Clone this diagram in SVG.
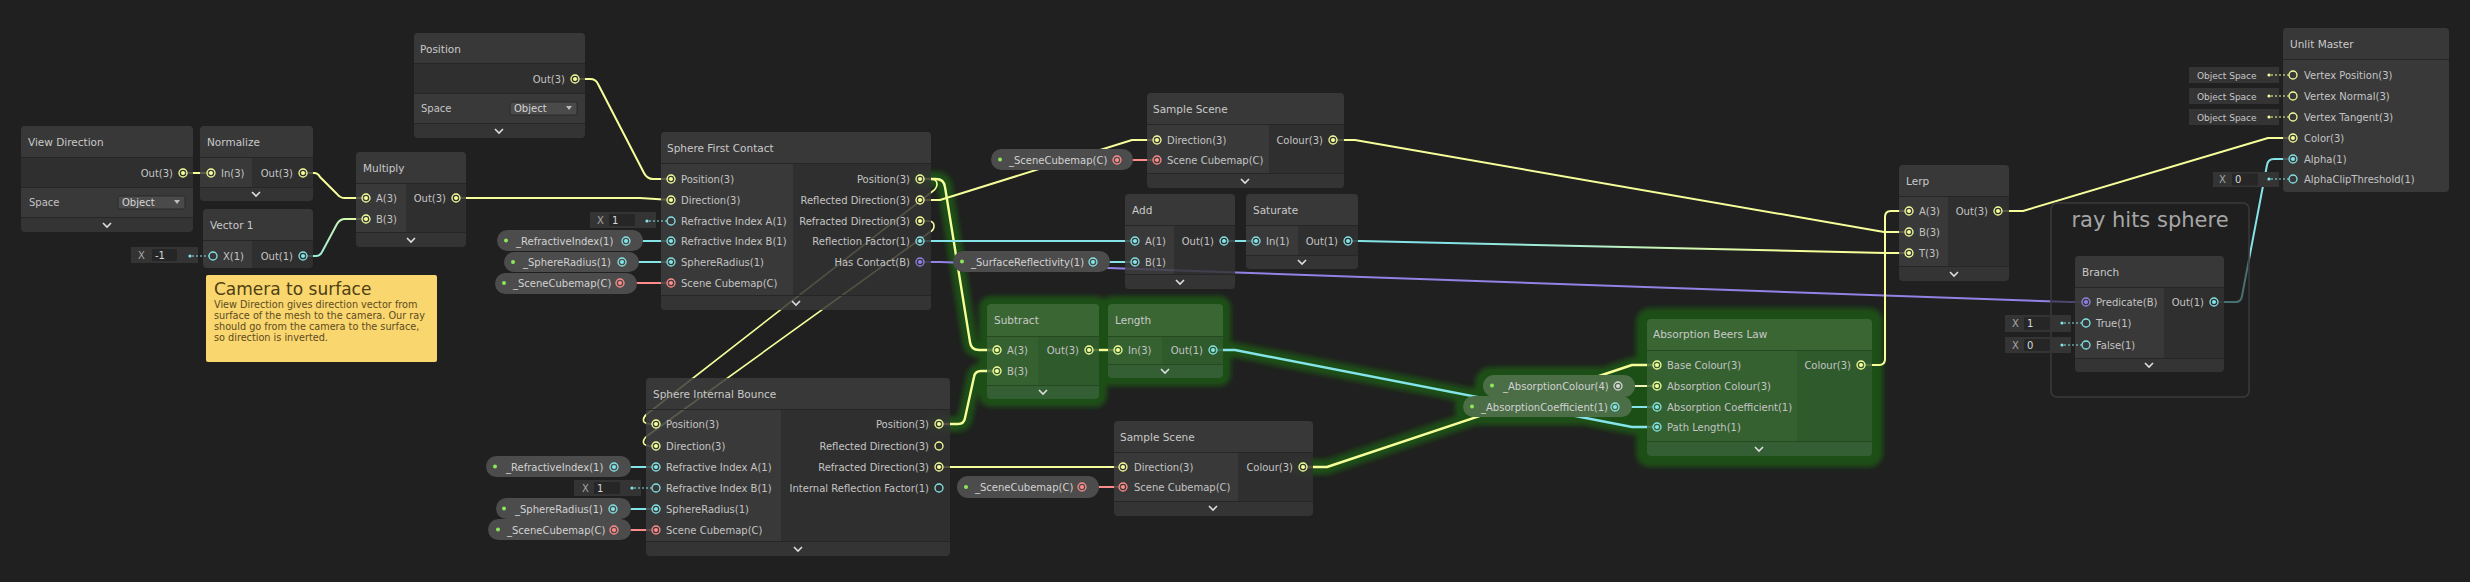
<svg xmlns="http://www.w3.org/2000/svg" xmlns:xlink="http://www.w3.org/1999/xlink" width="2470" height="582" viewBox="0 0 2470 582">
<style>
text{font-family:"DejaVu Sans","Liberation Sans",sans-serif}
.tb{fill:#3d3d3d;fill-opacity:.85}
.ic{fill:#3e3e3e;fill-opacity:.85}
.oc{fill:#323232;fill-opacity:.85}
.ft{fill:#383838;fill-opacity:.85}
.sep{fill:#262626}
.g .tb{fill:#3f6a3a}
.g .ic{fill:#3a6436}
.g .oc{fill:#335c30}
.g .ft{fill:#38623a}
.g .sep{fill:#254a20}
.tt{font-size:10.5px;fill:#c9c9c9}
.lb{font-size:10px;fill:#c4c4c4}
.e{text-anchor:end}
.cy{color:#F6FF9A}.cc{color:#84E4E7}.cp{color:#9481E6}.cr{color:#FF8B8B}.cw{color:#d8d8d8}
.wire{fill:none;stroke-width:2;stroke-linejoin:round}
.hl{stroke-width:2.4}
.y{stroke:#F6FF9A}.c{stroke:#84E4E7}.p{stroke:#9481E6}.r{stroke:#FF8B8B}
.back{stroke:#F6FF9A;stroke-width:1.6}
.glow{fill:none;stroke:#1f4f19;stroke-width:15;stroke-linejoin:round;stroke-linecap:round}
.gb{fill:#1f4f19}
.pill{fill:#4c4c4c}
.gp{fill:#4b6e47}
.pt{font-size:10px;fill:#d2d2d2}
.fld{fill:#343434}
.val{fill:#262626}
.f9{font-size:9px;fill:#c8c8c8}
.fx{font-size:10px;fill:#a8a8a8}
.fv{font-size:10px;fill:#d8d8d8}
.dash{fill:none;stroke-width:1.2;stroke-dasharray:2 2}
.dd{fill:#4a4a4a;stroke:#2a2a2a;stroke-width:1}
.ddt{font-size:10px;fill:#d4d4d4}
.tri{fill:#bdbdbd}
.note-t{font-size:17px;fill:#4f3f12}
.note-b{font-size:9.7px;fill:#5d4b1f}
</style>
<defs>
<g id="pc"><circle r="4" fill="none" stroke="currentColor" stroke-width="1.3"/><circle r="2" fill="currentColor"/></g>
<g id="ph"><circle r="4" fill="none" stroke="currentColor" stroke-width="1.3"/></g>
<path id="chev" d="M-4,-2 L0,2 L4,-2" fill="none" stroke="#dedede" stroke-width="1.6"/>
<filter id="blur" filterUnits="userSpaceOnUse" x="0" y="0" width="2470" height="582"><feGaussianBlur stdDeviation="2.5"/></filter>
<linearGradient id="g1" gradientUnits="userSpaceOnUse" x1="303" y1="0" x2="366" y2="0"><stop offset="0" stop-color="#84E4E7"/><stop offset="1" stop-color="#F6FF9A"/></linearGradient>
<linearGradient id="g2" gradientUnits="userSpaceOnUse" x1="1348" y1="0" x2="1909" y2="0"><stop offset="0.2" stop-color="#84E4E7"/><stop offset="0.8" stop-color="#F6FF9A"/></linearGradient>
<linearGradient id="g3" gradientUnits="userSpaceOnUse" x1="1618" y1="0" x2="1657" y2="0"><stop offset="0" stop-color="#e0e0e0"/><stop offset="1" stop-color="#F6FF9A"/></linearGradient>
</defs>
<rect width="2470" height="582" fill="#202020"/>

<!-- selection glow -->
<g id="glow" filter="url(#blur)">
<path class="glow" d="M918,179 H936 Q944,179 945,187 L970,342 Q971,350 979,350 H997"/>
<path class="glow" d="M937,424 H958 Q964,424 965,418 L974,377 Q975,371 981,371 H997"/>
<path class="glow" d="M1213,350 H1235 L1632,427 H1657"/>
<path class="glow" d="M1301,467 H1327 L1632,365 H1657"/>
<rect class="gb" x="979" y="296" width="128" height="111" rx="12"/>
<rect class="gb" x="1100" y="296" width="131" height="90" rx="12"/>
<rect class="gb" x="1636" y="308" width="247" height="159" rx="14"/>
<rect class="gb" x="1475" y="367" width="168" height="38" rx="16"/>
<rect class="gb" x="1455" y="388" width="185" height="37" rx="16"/>
</g>

<!-- connectors -->
<g id="connectors">
<path class="wire y" d="M183,173 H211"/>
<path class="wire y" d="M303,173 H314 Q318,173 320,177 L337,194 Q340,198 345,198 H366"/>
<path class="wire" stroke="url(#g1)" d="M303,256 H316 Q320,256 322,252 L337,224 Q340,219 345,219 H366"/>
<path class="wire y" d="M456,198 H640 L671,200"/>
<path class="wire y" d="M575,79 H590 Q596,79 598,84 L644,173 Q647,179 653,179 H671"/>
<path class="wire c" d="M626,241 H671"/>
<path class="wire c" d="M622,262 H671"/>
<path class="wire r" d="M620,283 H671"/>
<path class="wire c" d="M614,467 H656"/>
<path class="wire c" d="M613,509 H656"/>
<path class="wire r" d="M614,530 H656"/>
<path class="wire back" fill="none" d="M920,179 H930 Q937,179 937,184 Q937,188 933,191 L647,414 Q642,418 644,422 Q646,424 650,424 H656"/>
<path class="wire back" fill="none" d="M920,221 H928 Q934,221 934,226 Q934,230 930,232 L647,436 Q642,440 644,444 Q646,446 650,446 H656"/>
<path class="wire y hl" d="M920,179 H936 Q944,179 945,187 L970,342 Q971,350 979,350 H997"/>
<path class="wire y hl" d="M939,424 H958 Q964,424 965,418 L974,377 Q975,371 981,371 H997"/>
<path class="wire y" d="M920,200 H940 L1132,140 H1157"/>
<path class="wire r" d="M1117,160 H1157"/>
<path class="wire c" d="M920,241 H1135"/>
<path class="wire c" d="M1093,262 H1135"/>
<path class="wire p" d="M920,262 H940 L2070,302 H2086"/>
<path class="wire c" d="M1224,241 H1256"/>
<path class="wire" stroke="url(#g2)" d="M1348,241 H1360 L1885,253 H1909"/>
<path class="wire y" d="M1333,140 H1355 L1884,232 H1909"/>
<path class="wire y" d="M1861,365 H1879 Q1885,365 1885,359 V217 Q1885,211 1891,211 H1909"/>
<path class="wire y hl" d="M1089,350 H1118"/>
<path class="wire c hl" d="M1213,350 H1235 L1632,427 H1657"/>
<path class="wire y" d="M939,467 H1123"/>
<path class="wire r" d="M1082,487 H1123"/>
<path class="wire y hl" d="M1303,467 H1327 L1632,365 H1657"/>
<path class="wire" stroke="url(#g3)" d="M1618,386 H1657"/>
<path class="wire c" d="M1615,407 H1657"/>
<path class="wire y" d="M1998,211 H2023 L2268,138 H2293"/>
<path class="wire c" d="M2214,302 H2236 Q2241,302 2242,296 L2267,165 Q2268,159 2274,159 H2293"/>
</g>

<!-- View Direction -->
<g id="n-viewdir">
<path class="tb" d="M21,157 V130 Q21,126 25,126 H189 Q193,126 193,130 V157 Z"/>
<rect class="oc" x="21" y="157" width="172" height="30"/>
<rect class="ic" x="21" y="187" width="172" height="30"/>
<path class="ft" d="M21,217 H193 V228 Q193,232 189,232 H25 Q21,232 21,228 Z"/>
<rect class="sep" x="21" y="157" width="172" height="1"/><rect class="sep" x="21" y="187" width="172" height="1"/><rect class="sep" x="21" y="217" width="172" height="1"/>
<text class="tt" x="28" y="146">View Direction</text>
<text class="lb e" x="173" y="177">Out(3)</text>
<use href="#pc" x="183" y="173" class="cy"/>
<text class="lb" x="29" y="206">Space</text>
<rect class="dd" x="118" y="196" width="67" height="13" rx="2"/>
<text class="ddt" x="122" y="206">Object</text>
<polygon class="tri" points="174,200 180,200 177,204"/>
<use href="#chev" x="107" y="225"/>
</g>

<!-- Normalize -->
<g id="n-normalize">
<path class="tb" d="M200,157 V130 Q200,126 204,126 H309 Q313,126 313,130 V157 Z"/>
<rect class="ic" x="200" y="157" width="52" height="30"/>
<rect class="oc" x="252" y="157" width="61" height="30"/>
<path class="ft" d="M200,187 H313 V197 Q313,201 309,201 H204 Q200,201 200,197 Z"/>
<rect class="sep" x="200" y="157" width="113" height="1"/><rect class="sep" x="200" y="187" width="113" height="1"/>
<text class="tt" x="207" y="146">Normalize</text>
<text class="lb" x="221" y="177">In(3)</text>
<use href="#pc" x="211" y="173" class="cy"/>
<text class="lb e" x="293" y="177">Out(3)</text>
<use href="#pc" x="303" y="173" class="cy"/>
<use href="#chev" x="256" y="194"/>
</g>

<!-- Vector 1 -->
<g id="n-vector1">
<path class="tb" d="M203,240 V213 Q203,209 207,209 H309 Q313,209 313,213 V240 Z"/>
<path class="ic" d="M203,240 H252 V268 H207 Q203,268 203,264 Z"/>
<path class="oc" d="M252,240 H313 V264 Q313,268 309,268 H252 Z"/>
<rect class="sep" x="203" y="240" width="110" height="1"/>
<text class="tt" x="210" y="229">Vector 1</text>
<text class="lb" x="223" y="260">X(1)</text>
<use href="#ph" x="213" y="256" class="cc"/>
<text class="lb e" x="293" y="260">Out(1)</text>
<use href="#pc" x="303" y="256" class="cc"/>
<rect class="fld" x="131" y="247" width="67" height="16"/>
<text class="fx" x="138" y="259">X</text>
<rect class="val" x="152" y="249" width="25" height="12" rx="1"/>
<text class="fv" x="155" y="259">-1</text>
<circle cx="190" cy="256" r="1.6" fill="#84E4E7"/>
<path class="dash c" d="M192,256 H209"/>
</g>

<!-- Multiply -->
<g id="n-multiply">
<path class="tb" d="M356,183 V156 Q356,152 360,152 H462 Q466,152 466,156 V183 Z"/>
<rect class="ic" x="356" y="183" width="50" height="49"/>
<rect class="oc" x="406" y="183" width="60" height="49"/>
<path class="ft" d="M356,232 H466 V243 Q466,247 462,247 H360 Q356,247 356,243 Z"/>
<rect class="sep" x="356" y="183" width="110" height="1"/><rect class="sep" x="356" y="232" width="110" height="1"/>
<text class="tt" x="363" y="172">Multiply</text>
<text class="lb" x="376" y="202">A(3)</text>
<use href="#pc" x="366" y="198" class="cy"/>
<text class="lb" x="376" y="223">B(3)</text>
<use href="#pc" x="366" y="219" class="cy"/>
<text class="lb e" x="446" y="202">Out(3)</text>
<use href="#pc" x="456" y="198" class="cy"/>
<use href="#chev" x="411" y="240"/>
</g>

<!-- Camera to surface sticky note -->
<g id="note">
<rect x="206" y="275" width="231" height="87" rx="2" fill="#f9d66e"/>
<text class="note-t" x="214" y="295">Camera to surface</text>
<text class="note-b" x="214" y="308">View Direction gives direction vector from</text>
<text class="note-b" x="214" y="319">surface of the mesh to the camera. Our ray</text>
<text class="note-b" x="214" y="330">should go from the camera to the surface,</text>
<text class="note-b" x="214" y="341">so direction is inverted.</text>
</g>

<!-- Position -->
<g id="n-position">
<path class="tb" d="M414,63 V37 Q414,33 418,33 H581 Q585,33 585,37 V63 Z"/>
<rect class="oc" x="414" y="63" width="171" height="30"/>
<rect class="ic" x="414" y="93" width="171" height="30"/>
<path class="ft" d="M414,123 H585 V134 Q585,138 581,138 H418 Q414,138 414,134 Z"/>
<rect class="sep" x="414" y="63" width="171" height="1"/><rect class="sep" x="414" y="93" width="171" height="1"/><rect class="sep" x="414" y="123" width="171" height="1"/>
<text class="tt" x="420" y="53">Position</text>
<text class="lb e" x="565" y="83">Out(3)</text>
<use href="#pc" x="575" y="79" class="cy"/>
<text class="lb" x="421" y="112">Space</text>
<rect class="dd" x="510" y="102" width="67" height="13" rx="2"/>
<text class="ddt" x="514" y="112">Object</text>
<polygon class="tri" points="566,106 572,106 569,110"/>
<use href="#chev" x="499" y="131"/>
</g>

<!-- Properties for Sphere First Contact -->
<g id="p-refr1">
<rect class="pill" x="497" y="230" width="146" height="21" rx="10.5"/>
<circle cx="506" cy="240.5" r="2" fill="#8CE85A"/>
<text class="pt" x="516" y="245">_RefractiveIndex(1)</text>
<use href="#pc" x="626" y="241" class="cc"/>
</g>
<g id="p-radius1">
<rect class="pill" x="504" y="252" width="135" height="20" rx="10"/>
<circle cx="513" cy="262" r="2" fill="#8CE85A"/>
<text class="pt" x="523" y="266">_SphereRadius(1)</text>
<use href="#pc" x="622" y="262" class="cc"/>
</g>
<g id="p-cube1">
<rect class="pill" x="495" y="273" width="142" height="21" rx="10.5"/>
<circle cx="504" cy="283" r="2" fill="#8CE85A"/>
<text class="pt" x="513" y="287">_SceneCubemap(C)</text>
<use href="#pc" x="620" y="283" class="cr"/>
</g>

<!-- Sphere First Contact -->
<g id="n-sfc">
<path class="tb" d="M661,163 V136 Q661,132 665,132 H927 Q931,132 931,136 V163 Z"/>
<rect class="ic" x="661" y="163" width="132" height="132"/>
<rect class="oc" x="793" y="163" width="138" height="132"/>
<path class="ft" d="M661,295 H931 V306 Q931,310 927,310 H665 Q661,310 661,306 Z"/>
<rect class="sep" x="661" y="163" width="270" height="1"/><rect class="sep" x="661" y="295" width="270" height="1"/>
<text class="tt" x="667" y="152">Sphere First Contact</text>
<text class="lb" x="681" y="183">Position(3)</text><use href="#pc" x="671" y="179" class="cy"/>
<text class="lb" x="681" y="204">Direction(3)</text><use href="#pc" x="671" y="200" class="cy"/>
<text class="lb" x="681" y="225">Refractive Index A(1)</text><use href="#ph" x="671" y="221" class="cc"/>
<text class="lb" x="681" y="245">Refractive Index B(1)</text><use href="#pc" x="671" y="241" class="cc"/>
<text class="lb" x="681" y="266">SphereRadius(1)</text><use href="#pc" x="671" y="262" class="cc"/>
<text class="lb" x="681" y="287">Scene Cubemap(C)</text><use href="#pc" x="671" y="283" class="cr"/>
<text class="lb e" x="910" y="183">Position(3)</text><use href="#pc" x="920" y="179" class="cy"/>
<text class="lb e" x="910" y="204">Reflected Direction(3)</text><use href="#pc" x="920" y="200" class="cy"/>
<text class="lb e" x="910" y="225">Refracted Direction(3)</text><use href="#pc" x="920" y="221" class="cy"/>
<text class="lb e" x="910" y="245">Reflection Factor(1)</text><use href="#pc" x="920" y="241" class="cc"/>
<text class="lb e" x="910" y="266">Has Contact(B)</text><use href="#pc" x="920" y="262" class="cp"/>
<rect class="fld" x="590" y="212" width="66" height="16"/>
<text class="fx" x="597" y="224">X</text>
<rect class="val" x="609" y="214" width="26" height="12" rx="1"/>
<text class="fv" x="612" y="224">1</text>
<circle cx="647" cy="221" r="1.6" fill="#84E4E7"/>
<path class="dash c" d="M649,221 H667"/>
<use href="#chev" x="796" y="303"/>
</g>

<!-- Properties for Sphere Internal Bounce -->
<g id="p-refr2">
<rect class="pill" x="486" y="456" width="145" height="21" rx="10.5"/>
<circle cx="495" cy="466.5" r="2" fill="#8CE85A"/>
<text class="pt" x="506" y="471">_RefractiveIndex(1)</text>
<use href="#pc" x="614" y="467" class="cc"/>
</g>
<g id="p-radius2">
<rect class="pill" x="496" y="498" width="135" height="21" rx="10.5"/>
<circle cx="504" cy="508.5" r="2" fill="#8CE85A"/>
<text class="pt" x="515" y="513">_SphereRadius(1)</text>
<use href="#pc" x="613" y="509" class="cc"/>
</g>
<g id="p-cube2">
<rect class="pill" x="488" y="519" width="143" height="21" rx="10.5"/>
<circle cx="498" cy="529.5" r="2" fill="#8CE85A"/>
<text class="pt" x="507" y="534">_SceneCubemap(C)</text>
<use href="#pc" x="614" y="530" class="cr"/>
</g>

<!-- Sphere Internal Bounce -->
<g id="n-sib">
<path class="tb" d="M646,409 V382 Q646,378 650,378 H946 Q950,378 950,382 V409 Z"/>
<rect class="ic" x="646" y="409" width="135" height="132"/>
<rect class="oc" x="781" y="409" width="169" height="132"/>
<path class="ft" d="M646,541 H950 V552 Q950,556 946,556 H650 Q646,556 646,552 Z"/>
<rect class="sep" x="646" y="409" width="304" height="1"/><rect class="sep" x="646" y="541" width="304" height="1"/>
<text class="tt" x="653" y="398">Sphere Internal Bounce</text>
<text class="lb" x="666" y="428">Position(3)</text><use href="#pc" x="656" y="424" class="cy"/>
<text class="lb" x="666" y="450">Direction(3)</text><use href="#pc" x="656" y="446" class="cy"/>
<text class="lb" x="666" y="471">Refractive Index A(1)</text><use href="#pc" x="656" y="467" class="cc"/>
<text class="lb" x="666" y="492">Refractive Index B(1)</text><use href="#ph" x="656" y="488" class="cc"/>
<text class="lb" x="666" y="513">SphereRadius(1)</text><use href="#pc" x="656" y="509" class="cc"/>
<text class="lb" x="666" y="534">Scene Cubemap(C)</text><use href="#pc" x="656" y="530" class="cr"/>
<text class="lb e" x="929" y="428">Position(3)</text><use href="#pc" x="939" y="424" class="cy"/>
<text class="lb e" x="929" y="450">Reflected Direction(3)</text><use href="#ph" x="939" y="446" class="cy"/>
<text class="lb e" x="929" y="471">Refracted Direction(3)</text><use href="#pc" x="939" y="467" class="cy"/>
<text class="lb e" x="929" y="492">Internal Reflection Factor(1)</text><use href="#ph" x="939" y="488" class="cc"/>
<rect class="fld" x="574" y="480" width="67" height="16"/>
<text class="fx" x="582" y="492">X</text>
<rect class="val" x="594" y="482" width="26" height="12" rx="1"/>
<text class="fv" x="597" y="492">1</text>
<circle cx="632" cy="488" r="1.6" fill="#84E4E7"/>
<path class="dash c" d="M634,488 H652"/>
<use href="#chev" x="798" y="549"/>
</g>

<!-- Sample Scene (reflection) -->
<g id="p-cube3">
<rect class="pill" x="991" y="149" width="142" height="21" rx="10.5"/>
<circle cx="1000" cy="159.5" r="2" fill="#8CE85A"/>
<text class="pt" x="1009" y="164">_SceneCubemap(C)</text>
<use href="#pc" x="1117" y="160" class="cr"/>
</g>
<g id="n-ss1">
<path class="tb" d="M1147,124 V97 Q1147,93 1151,93 H1340 Q1344,93 1344,97 V124 Z"/>
<rect class="ic" x="1147" y="124" width="122" height="49"/>
<rect class="oc" x="1269" y="124" width="75" height="49"/>
<path class="ft" d="M1147,173 H1344 V184 Q1344,188 1340,188 H1151 Q1147,188 1147,184 Z"/>
<rect class="sep" x="1147" y="124" width="197" height="1"/><rect class="sep" x="1147" y="173" width="197" height="1"/>
<text class="tt" x="1153" y="113">Sample Scene</text>
<text class="lb" x="1167" y="144">Direction(3)</text><use href="#pc" x="1157" y="140" class="cy"/>
<text class="lb" x="1167" y="164">Scene Cubemap(C)</text><use href="#pc" x="1157" y="160" class="cr"/>
<text class="lb e" x="1323" y="144">Colour(3)</text><use href="#pc" x="1333" y="140" class="cy"/>
<use href="#chev" x="1245" y="181"/>
</g>

<!-- Surface reflectivity property -->
<g id="p-reflectivity">
<rect class="pill" x="953" y="251" width="157" height="21" rx="10.5"/>
<circle cx="962" cy="261.5" r="2" fill="#8CE85A"/>
<text class="pt" x="971" y="266">_SurfaceReflectivity(1)</text>
<use href="#pc" x="1093" y="262" class="cc"/>
</g>

<!-- Add -->
<g id="n-add">
<path class="tb" d="M1125,225 V198 Q1125,194 1129,194 H1231 Q1235,194 1235,198 V225 Z"/>
<rect class="ic" x="1125" y="225" width="49" height="49"/>
<rect class="oc" x="1174" y="225" width="61" height="49"/>
<path class="ft" d="M1125,274 H1235 V285 Q1235,289 1231,289 H1129 Q1125,289 1125,285 Z"/>
<rect class="sep" x="1125" y="225" width="110" height="1"/><rect class="sep" x="1125" y="274" width="110" height="1"/>
<text class="tt" x="1132" y="214">Add</text>
<text class="lb" x="1145" y="245">A(1)</text><use href="#pc" x="1135" y="241" class="cc"/>
<text class="lb" x="1145" y="266">B(1)</text><use href="#pc" x="1135" y="262" class="cc"/>
<text class="lb e" x="1214" y="245">Out(1)</text><use href="#pc" x="1224" y="241" class="cc"/>
<use href="#chev" x="1180" y="282"/>
</g>

<!-- Saturate -->
<g id="n-saturate">
<path class="tb" d="M1246,225 V198 Q1246,194 1250,194 H1354 Q1358,194 1358,198 V225 Z"/>
<rect class="ic" x="1246" y="225" width="52" height="30"/>
<rect class="oc" x="1298" y="225" width="60" height="30"/>
<path class="ft" d="M1246,255 H1358 V265 Q1358,269 1354,269 H1250 Q1246,269 1246,265 Z"/>
<rect class="sep" x="1246" y="225" width="112" height="1"/><rect class="sep" x="1246" y="255" width="112" height="1"/>
<text class="tt" x="1253" y="214">Saturate</text>
<text class="lb" x="1266" y="245">In(1)</text><use href="#pc" x="1256" y="241" class="cc"/>
<text class="lb e" x="1338" y="245">Out(1)</text><use href="#pc" x="1348" y="241" class="cc"/>
<use href="#chev" x="1302" y="262"/>
</g>

<!-- Subtract (selected) -->
<g id="n-subtract" class="g">
<path class="tb" d="M987,336 V308 Q987,304 991,304 H1095 Q1099,304 1099,308 V336 Z"/>
<rect class="ic" x="987" y="336" width="51" height="49"/>
<rect class="oc" x="1038" y="336" width="61" height="49"/>
<path class="ft" d="M987,385 H1099 V395 Q1099,399 1095,399 H991 Q987,399 987,395 Z"/>
<rect class="sep" x="987" y="336" width="112" height="1"/><rect class="sep" x="987" y="385" width="112" height="1"/>
<text class="tt" x="994" y="324">Subtract</text>
<text class="lb" x="1007" y="354">A(3)</text><use href="#pc" x="997" y="350" class="cy"/>
<text class="lb" x="1007" y="375">B(3)</text><use href="#pc" x="997" y="371" class="cy"/>
<text class="lb e" x="1079" y="354">Out(3)</text><use href="#pc" x="1089" y="350" class="cy"/>
<use href="#chev" x="1043" y="392"/>
</g>

<!-- Length (selected) -->
<g id="n-length" class="g">
<path class="tb" d="M1108,336 V308 Q1108,304 1112,304 H1219 Q1223,304 1223,308 V336 Z"/>
<rect class="ic" x="1108" y="336" width="54" height="28"/>
<rect class="oc" x="1162" y="336" width="61" height="28"/>
<path class="ft" d="M1108,364 H1223 V374 Q1223,378 1219,378 H1112 Q1108,378 1108,374 Z"/>
<rect class="sep" x="1108" y="336" width="115" height="1"/><rect class="sep" x="1108" y="364" width="115" height="1"/>
<text class="tt" x="1115" y="324">Length</text>
<text class="lb" x="1128" y="354">In(3)</text><use href="#pc" x="1118" y="350" class="cy"/>
<text class="lb e" x="1203" y="354">Out(1)</text><use href="#pc" x="1213" y="350" class="cc"/>
<use href="#chev" x="1165" y="371"/>
</g>

<!-- Sample Scene (refraction) -->
<g id="p-cube4">
<rect class="pill" x="957" y="476" width="142" height="22" rx="11"/>
<circle cx="966" cy="487" r="2" fill="#8CE85A"/>
<text class="pt" x="975" y="491">_SceneCubemap(C)</text>
<use href="#pc" x="1082" y="487" class="cr"/>
</g>
<g id="n-ss2">
<path class="tb" d="M1114,452 V425 Q1114,421 1118,421 H1309 Q1313,421 1313,425 V452 Z"/>
<rect class="ic" x="1114" y="452" width="124" height="49"/>
<rect class="oc" x="1238" y="452" width="75" height="49"/>
<path class="ft" d="M1114,501 H1313 V512 Q1313,516 1309,516 H1118 Q1114,516 1114,512 Z"/>
<rect class="sep" x="1114" y="452" width="199" height="1"/><rect class="sep" x="1114" y="501" width="199" height="1"/>
<text class="tt" x="1120" y="441">Sample Scene</text>
<text class="lb" x="1134" y="471">Direction(3)</text><use href="#pc" x="1123" y="467" class="cy"/>
<text class="lb" x="1134" y="491">Scene Cubemap(C)</text><use href="#pc" x="1123" y="487" class="cr"/>
<text class="lb e" x="1293" y="471">Colour(3)</text><use href="#pc" x="1303" y="467" class="cy"/>
<use href="#chev" x="1213" y="508"/>
</g>

<!-- Absorption properties (selected) -->
<g id="p-abscolour">
<rect class="gp" x="1483" y="375" width="152" height="22" rx="11"/>
<circle cx="1492" cy="385.5" r="2" fill="#8CE85A"/>
<text class="pt" x="1503" y="390">_AbsorptionColour(4)</text>
<use href="#pc" x="1618" y="386" class="cw"/>
</g>
<g id="p-abscoef">
<rect class="gp" x="1463" y="396" width="169" height="21" rx="10.5"/>
<circle cx="1472" cy="406.5" r="2" fill="#8CE85A"/>
<text class="pt" x="1481" y="411">_AbsorptionCoefficient(1)</text>
<use href="#pc" x="1615" y="407" class="cc"/>
</g>

<!-- Absorption Beers Law (selected) -->
<g id="n-absorption" class="g">
<path class="tb" d="M1647,350 V323 Q1647,319 1651,319 H1868 Q1872,319 1872,323 V350 Z"/>
<rect class="ic" x="1647" y="350" width="150" height="91"/>
<rect class="oc" x="1797" y="350" width="75" height="91"/>
<path class="ft" d="M1647,441 H1872 V452 Q1872,456 1868,456 H1651 Q1647,456 1647,452 Z"/>
<rect class="sep" x="1647" y="350" width="225" height="1"/><rect class="sep" x="1647" y="441" width="225" height="1"/>
<text class="tt" x="1653" y="338">Absorption Beers Law</text>
<text class="lb" x="1667" y="369">Base Colour(3)</text><use href="#pc" x="1657" y="365" class="cy"/>
<text class="lb" x="1667" y="390">Absorption Colour(3)</text><use href="#pc" x="1657" y="386" class="cy"/>
<text class="lb" x="1667" y="411">Absorption Coefficient(1)</text><use href="#pc" x="1657" y="407" class="cc"/>
<text class="lb" x="1667" y="431">Path Length(1)</text><use href="#pc" x="1657" y="427" class="cc"/>
<text class="lb e" x="1851" y="369">Colour(3)</text><use href="#pc" x="1861" y="365" class="cy"/>
<use href="#chev" x="1759" y="449"/>
</g>

<!-- Lerp -->
<g id="n-lerp">
<path class="tb" d="M1899,196 V169 Q1899,165 1903,165 H2005 Q2009,165 2009,169 V196 Z"/>
<rect class="ic" x="1899" y="196" width="49" height="70"/>
<rect class="oc" x="1948" y="196" width="61" height="70"/>
<path class="ft" d="M1899,266 H2009 V277 Q2009,281 2005,281 H1903 Q1899,281 1899,277 Z"/>
<rect class="sep" x="1899" y="196" width="110" height="1"/><rect class="sep" x="1899" y="266" width="110" height="1"/>
<text class="tt" x="1906" y="185">Lerp</text>
<text class="lb" x="1919" y="215">A(3)</text><use href="#pc" x="1909" y="211" class="cy"/>
<text class="lb" x="1919" y="236">B(3)</text><use href="#pc" x="1909" y="232" class="cy"/>
<text class="lb" x="1919" y="257">T(3)</text><use href="#pc" x="1909" y="253" class="cy"/>
<text class="lb e" x="1988" y="215">Out(3)</text><use href="#pc" x="1998" y="211" class="cy"/>
<use href="#chev" x="1954" y="274"/>
</g>

<!-- Group: ray hits sphere -->
<g id="group-ray-hits-sphere">
<rect x="2051" y="203" width="198" height="194" rx="6" fill="#1f1f1f" fill-opacity=".6" stroke="#3a3a3a" stroke-width="1.5"/>
<text x="2150" y="227" text-anchor="middle" font-size="21" fill="#a6a6a6">ray hits sphere</text>
</g>

<!-- Branch -->
<g id="n-branch">
<path class="tb" d="M2075,287 V260 Q2075,256 2079,256 H2220 Q2224,256 2224,260 V287 Z"/>
<rect class="ic" x="2075" y="287" width="89" height="71"/>
<rect class="oc" x="2164" y="287" width="60" height="71"/>
<path class="ft" d="M2075,358 H2224 V368 Q2224,372 2220,372 H2079 Q2075,372 2075,368 Z"/>
<rect class="sep" x="2075" y="287" width="149" height="1"/><rect class="sep" x="2075" y="358" width="149" height="1"/>
<text class="tt" x="2082" y="276">Branch</text>
<text class="lb" x="2096" y="306">Predicate(B)</text><use href="#pc" x="2086" y="302" class="cp"/>
<text class="lb" x="2096" y="327">True(1)</text><use href="#ph" x="2086" y="323" class="cc"/>
<text class="lb" x="2096" y="349">False(1)</text><use href="#ph" x="2086" y="345" class="cc"/>
<text class="lb e" x="2204" y="306">Out(1)</text><use href="#pc" x="2214" y="302" class="cc"/>
<rect class="fld" x="2005" y="315" width="66" height="17"/>
<text class="fx" x="2012" y="327">X</text>
<rect class="val" x="2024" y="317" width="26" height="13" rx="1"/>
<text class="fv" x="2027" y="327">1</text>
<circle cx="2062" cy="323" r="1.6" fill="#84E4E7"/>
<path class="dash c" d="M2064,323 H2082"/>
<rect class="fld" x="2005" y="337" width="66" height="16"/>
<text class="fx" x="2012" y="349">X</text>
<rect class="val" x="2024" y="339" width="26" height="12" rx="1"/>
<text class="fv" x="2027" y="349">0</text>
<circle cx="2062" cy="345" r="1.6" fill="#84E4E7"/>
<path class="dash c" d="M2064,345 H2082"/>
<use href="#chev" x="2149" y="365"/>
</g>

<!-- Unlit Master -->
<g id="n-master">
<path class="tb" d="M2283,59 V32 Q2283,28 2287,28 H2445 Q2449,28 2449,32 V59 Z"/>
<path class="ic" d="M2283,59 H2449 V188 Q2449,192 2445,192 H2287 Q2283,192 2283,188 Z"/>
<rect class="sep" x="2283" y="59" width="166" height="1"/>
<text class="tt" x="2290" y="48">Unlit Master</text>
<text class="lb" x="2304" y="79">Vertex Position(3)</text><use href="#ph" x="2293" y="75" class="cy"/>
<text class="lb" x="2304" y="100">Vertex Normal(3)</text><use href="#ph" x="2293" y="96" class="cy"/>
<text class="lb" x="2304" y="121">Vertex Tangent(3)</text><use href="#ph" x="2293" y="117" class="cy"/>
<text class="lb" x="2304" y="142">Color(3)</text><use href="#pc" x="2293" y="138" class="cy"/>
<text class="lb" x="2304" y="163">Alpha(1)</text><use href="#pc" x="2293" y="159" class="cc"/>
<text class="lb" x="2304" y="183">AlphaClipThreshold(1)</text><use href="#ph" x="2293" y="179" class="cc"/>
<rect class="fld" x="2189" y="67" width="90" height="16"/>
<text class="f9" x="2197" y="78.5">Object Space</text>
<circle cx="2269" cy="75" r="1.6" fill="#F6FF9A"/>
<path class="dash y" d="M2271,75 H2289"/>
<rect class="fld" x="2189" y="88" width="90" height="16"/>
<text class="f9" x="2197" y="99.5">Object Space</text>
<circle cx="2269" cy="96" r="1.6" fill="#F6FF9A"/>
<path class="dash y" d="M2271,96 H2289"/>
<rect class="fld" x="2189" y="109" width="90" height="16"/>
<text class="f9" x="2197" y="120.5">Object Space</text>
<circle cx="2269" cy="117" r="1.6" fill="#F6FF9A"/>
<path class="dash y" d="M2271,117 H2289"/>
<rect class="fld" x="2213" y="172" width="66" height="15"/>
<text class="fx" x="2219" y="183">X</text>
<rect class="val" x="2232" y="173.5" width="26" height="12" rx="1"/>
<text class="fv" x="2235" y="183">0</text>
<circle cx="2269" cy="179" r="1.6" fill="#84E4E7"/>
<path class="dash c" d="M2271,179 H2289"/>
</g>
</svg>
